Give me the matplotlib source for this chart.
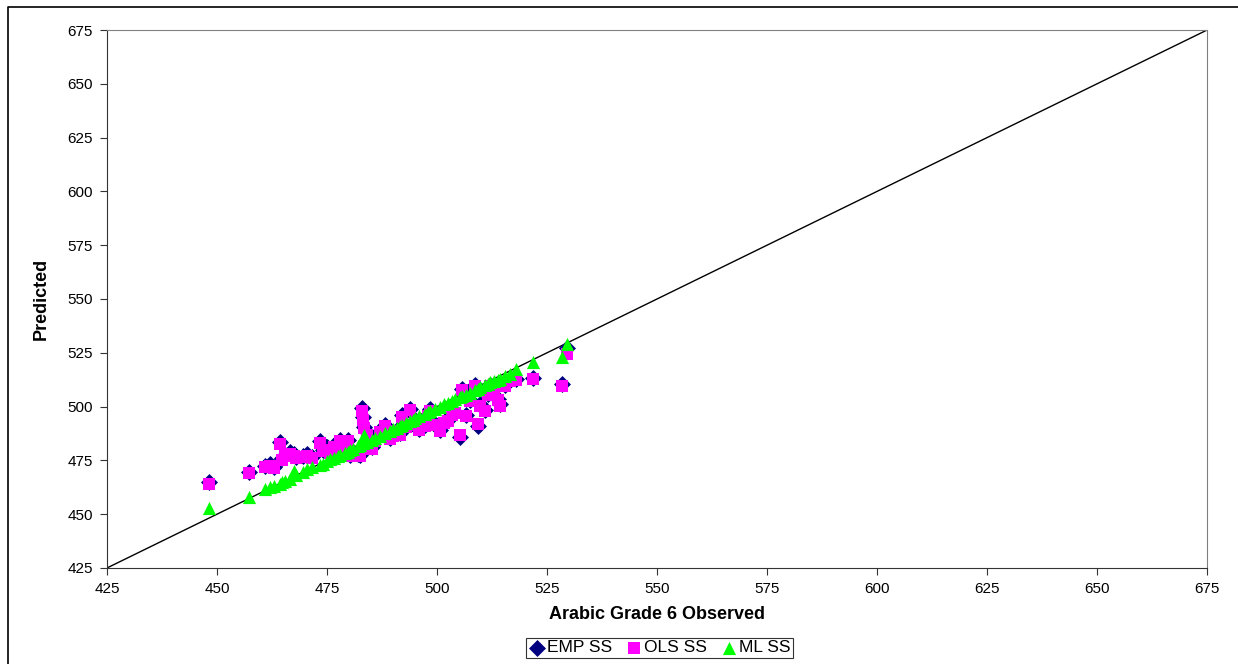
import matplotlib.pyplot as plt
from matplotlib.lines import Line2D

# observed scale scores and predictions from three models
observed = [448.2, 457.3, 461.0, 462.0, 463.0, 464.3, 464.8, 465.5, 466.6, 467.5,
            468.0, 469.5, 470.5, 471.5, 473.4, 474.0, 475.0, 475.7, 476.5, 477.5,
            478.0, 479.0, 479.8, 480.2, 481.0, 482.0, 482.5, 483.0, 483.2, 483.3,
            484.0, 485.2, 486.0, 487.0, 488.2, 489.3, 490.0, 491.0, 491.5, 492.0,
            493.0, 493.9, 494.5, 495.0, 496.0, 497.3, 498.0, 498.4, 499.5, 500.7,
            501.5, 502.5, 503.5, 504.0, 505.2, 505.7, 506.5, 507.5, 508.6, 509.3,
            509.8, 510.9, 511.5, 512.0, 513.0, 513.9, 514.3, 515.5, 516.6, 518.0,
            521.8, 528.4, 529.6]
emp_ss = [465.0, 469.5, 472.5, 473.5, 472.0, 483.5, 476.0, 477.5, 479.0, 478.0,
          476.5, 477.0, 478.0, 476.5, 484.0, 480.0, 481.0, 479.0, 482.0, 481.0,
          484.5, 483.0, 484.5, 477.5, 479.0, 478.0, 477.5, 499.5, 495.0, 490.5,
          488.0, 481.0, 485.0, 488.5, 491.5, 485.5, 487.0, 489.0, 487.5, 496.0,
          491.0, 499.0, 492.0, 494.0, 489.5, 491.5, 496.0, 499.0, 492.0, 489.0,
          493.0, 494.0, 496.5, 497.5, 486.0, 508.0, 496.0, 503.0, 510.0, 491.0,
          501.0, 498.5, 506.0, 510.0, 508.0, 503.5, 501.0, 510.0, 512.5, 513.0,
          513.5, 510.5, 527.0]
ols_ss = [464.0, 469.0, 472.0, 472.5, 471.5, 482.5, 475.0, 477.0, 478.0, 477.0,
          476.0, 476.5, 477.0, 476.0, 483.0, 479.5, 480.0, 478.5, 481.0, 480.5,
          484.0, 482.0, 484.0, 477.0, 478.5, 477.0, 477.0, 498.0, 494.0, 490.0,
          487.0, 480.5, 484.0, 488.0, 491.0, 485.0, 486.5, 488.5, 487.0, 495.0,
          490.5, 498.5, 491.5, 493.5, 489.0, 491.0, 495.5, 498.0, 491.5, 488.5,
          492.5, 493.5, 496.0, 497.0, 487.0, 507.5, 495.5, 502.5, 509.5, 492.0,
          500.5, 498.0, 505.5, 509.5, 507.5, 503.0, 500.5, 509.5, 512.0, 512.5,
          513.0, 509.5, 524.5]
ml_ss = [453.0, 458.0, 461.5, 462.5, 463.0, 464.0, 465.0, 465.5, 466.5, 470.0,
         468.0, 469.5, 471.0, 472.0, 473.0, 473.5, 474.5, 475.5, 476.0, 477.0,
         477.5, 478.5, 479.0, 480.0, 480.5, 481.5, 482.0, 484.0, 483.0, 487.0,
         483.5, 484.5, 485.5, 486.5, 487.5, 488.5, 489.5, 490.0, 491.0, 491.5,
         492.5, 493.5, 494.0, 494.5, 495.5, 496.5, 497.5, 498.0, 499.0, 500.0,
         501.0, 501.5, 502.5, 503.5, 504.5, 505.0, 505.5, 506.5, 507.5, 508.0,
         509.0, 510.0, 510.5, 511.5, 512.0, 512.5, 513.0, 514.0, 515.0, 517.5,
         520.5, 523.0, 529.0]
ticks = [425, 450, 475, 500, 525, 550, 575, 600, 625, 650, 675]

plt.rcParams['font.family'] = ['Liberation Sans', 'DejaVu Sans']

fig = plt.figure(figsize=(12.38, 6.64), dpi=100)
ax = fig.add_axes([0.0864, 0.1446, 0.8886, 0.8102])

ax.plot([425, 675], [425, 675], color='black', lw=1.0, zorder=1)
ax.scatter(observed, emp_ss, marker='D', s=75, color='#000080', label='EMP SS', zorder=2, linewidths=0)
ax.scatter(observed, ols_ss, marker='s', s=70, color='#FF00FF', label='OLS SS', zorder=3, linewidths=0)
ax.scatter(observed, ml_ss, marker='^', s=90, color='#00FF00', label='ML SS', zorder=4, linewidths=0)

ax.set_xlim(425, 675)
ax.set_ylim(425, 675)
ax.set_xticks(ticks)
ax.set_yticks(ticks)
ax.tick_params(labelsize=11, length=5, color='#333333', pad=5)
for s in ['top', 'right']:
    ax.spines[s].set_color('#808080')
for s in ['left', 'bottom']:
    ax.spines[s].set_color('#333333')
ax.set_xlabel('Arabic Grade 6 Observed', fontsize=13, fontweight='bold', labelpad=7)
ax.set_ylabel('Predicted', fontsize=13, fontweight='bold', labelpad=13)

handles, labels = ax.get_legend_handles_labels()
leg = fig.legend(handles, labels, loc='lower center', bbox_to_anchor=(0.533, -0.004), ncol=3,
                 fontsize=12.5, frameon=True, fancybox=False, edgecolor='black',
                 handlelength=0.9, handletextpad=0.15, columnspacing=0.8,
                 borderpad=0.15, markerscale=1.0)
leg.get_frame().set_linewidth(0.8)

# outer chart border (cut at right and bottom)
fig.add_artist(Line2D([8/1238, 8/1238, 1.0], [0.0, 1 - 7/664, 1 - 7/664],
                      color='black', lw=1.2, transform=fig.transFigure))

fig.savefig('out.png', dpi=100)
